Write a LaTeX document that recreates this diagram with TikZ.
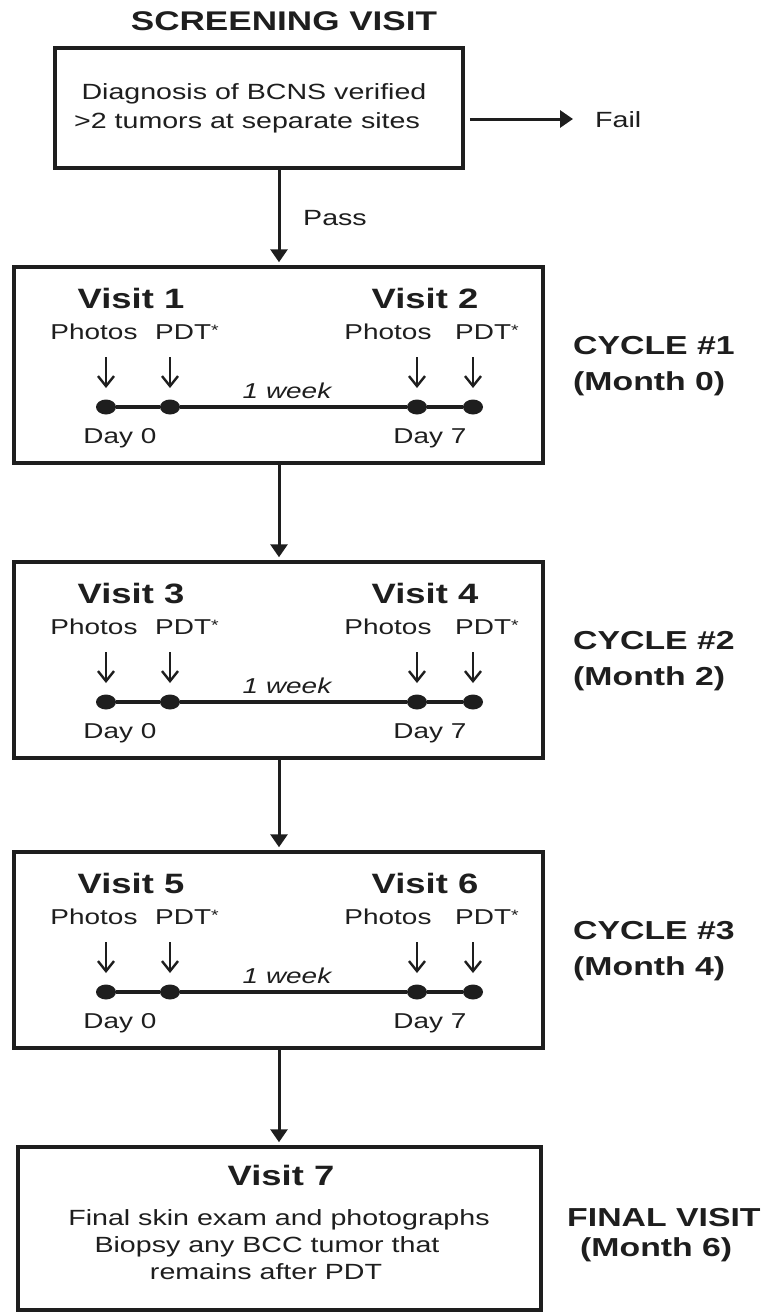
\documentclass[tikz,border=0pt]{standalone}
\usepackage{fontspec}
\setmainfont[FakeStretch=1.3]{Liberation Sans}
\usetikzlibrary{arrows.meta,shapes.geometric}
\definecolor{ink}{RGB}{30,30,30}
\tikzset{
  box/.style={draw=ink, line width=3.5pt, rectangle, inner sep=0pt},
  conn/.style={draw=ink, line width=3pt, -{Triangle[length=13pt,width=17pt]}, shorten >=3pt},
  tick/.style={draw=ink, line width=2.4pt, -{Straight Barb[length=10pt,width=16pt,line width=2.4pt]}},
  tline/.style={draw=ink, line width=3.2pt},
  dot/.style={ellipse, fill=ink, draw=none, inner sep=0pt, minimum width=20pt, minimum height=15pt},
  txt/.style={inner sep=0pt, text=ink},
  vis/.style={txt, font=\fontsize{28}{30}\selectfont\bfseries},
  lab/.style={txt, font=\fontsize{21.5}{24}\selectfont},
  wk/.style={txt, font=\fontsize{21.5}{24}\selectfont\itshape},
  body/.style={txt, font=\fontsize{22}{25}\selectfont},
  side/.style={txt, font=\fontsize{26}{29}\selectfont\bfseries},
}
\newcommand\pdtstar{PDT\raisebox{4pt}{\fontsize{15}{15}\selectfont*}}
\newcommand\cyc[6]{%
  \node[box, minimum width=529pt, minimum height=196pt] (#1) at (278.5,#2+98) {};
  \node[vis, anchor=base] (#1va) at (131,#2+41) {Visit #3};
  \node[vis, anchor=base] (#1vb) at (425,#2+41) {Visit #4};
  \node[lab, anchor=base] (#1pa) at (94,#2+72) {Photos};
  \node[lab, anchor=base west] (#1qa) at (155,#2+72) {\pdtstar};
  \node[lab, anchor=base] (#1pb) at (388,#2+72) {Photos};
  \node[lab, anchor=base west] (#1qb) at (455,#2+72) {\pdtstar};
  \node[dot] (#1d1) at (106,#2+140) {};
  \node[dot] (#1d2) at (170,#2+140) {};
  \node[dot] (#1d3) at (417,#2+140) {};
  \node[dot] (#1d4) at (473,#2+140) {};
  \draw[tline] (#1d1) -- (#1d2) -- (#1d3) -- (#1d4);
  \foreach \k in {1,...,4}{\draw[tick] ([yshift=50pt]#1d\k.center) -- ([yshift=19pt]#1d\k.center);}
  \node[wk, anchor=base] (#1w) at (287,#2+131) {1 week};
  \node[lab, anchor=base] (#1da) at (120,#2+176) {Day 0};
  \node[lab, anchor=base] (#1db) at (430,#2+176) {Day 7};
  \node[side, anchor=base west] (#1c) at (573,#2+87) {CYCLE \##5};
  \node[side, anchor=base west] (#1m) at (573,#2+123) {(Month #6)};
}
\begin{document}
\begin{tikzpicture}[x=1pt,y=-1pt]
\useasboundingbox[fill=white] (0,0) rectangle (769,1312);
\coordinate (col) at (279,0);
% screening
\node[txt, font=\fontsize{27}{30}\selectfont\bfseries, anchor=base] (title) at (284,30) {SCREENING VISIT};
\node[box, minimum width=408pt, minimum height=120pt] (scr) at (259,108) {};
\node[body, anchor=base] (s1) at (254,99) {Diagnosis of BCNS verified};
\node[body, anchor=base] (s2) at (247,128) {>2 tumors at separate sites};
\node[body, anchor=base west] (fail) at (595,127) {Fail};
\coordinate (fa) at (576,119);
\draw[conn] (scr.east |- fa) ++(5,0) -- (fa);
% cycles
\cyc{c1}{267}{1}{2}{1}{0}
\cyc{c2}{562}{3}{4}{2}{2}
\cyc{c3}{852}{5}{6}{3}{4}
% final
\node[box, minimum width=523pt, minimum height=163pt] (fin) at (279.5,1228.5) {};
\node[vis, anchor=base] (v7) at (281,1185) {Visit 7};
\node[body, anchor=base] (f1) at (279,1225) {Final skin exam and photographs};
\node[body, anchor=base] (f2) at (267,1252) {Biopsy any BCC tumor that};
\node[body, anchor=base] (f3) at (266,1279) {remains after PDT};
\node[side, anchor=base west] (fv) at (567,1226) {FINAL VISIT};
\node[side, anchor=base west] (fm) at (580,1256) {(Month 6)};
% connectors
\draw[conn] (scr.south -| col) -- (c1.north -| col);
\node[body, anchor=base west] (pass) at (303,225) {Pass};
\draw[conn] (c1.south -| col) -- (c2.north -| col);
\draw[conn] (c2.south -| col) -- (c3.north -| col);
\draw[conn] (c3.south -| col) -- (fin.north -| col);
\end{tikzpicture}
\end{document}
